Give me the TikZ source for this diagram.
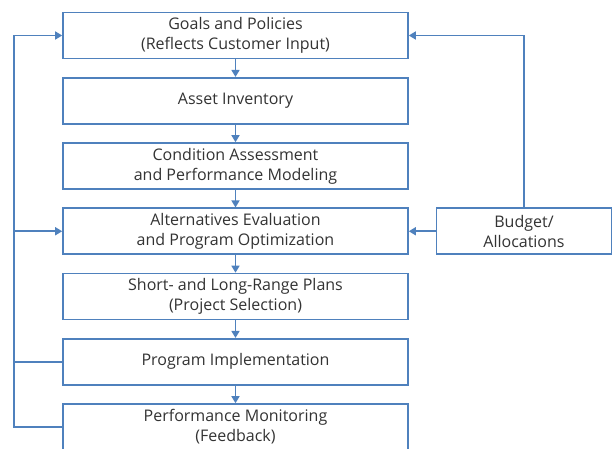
\documentclass[tikz,border=0pt]{standalone}
\usepackage{fontspec}
\setmainfont{Open Sans}
\usetikzlibrary{arrows.meta}
\definecolor{edge}{HTML}{4F81BD}
\definecolor{ink}{HTML}{333333}
\begin{document}
\begin{tikzpicture}[x=1pt, y=-1pt,
    stepbox/.style={draw=edge, line width=1.6pt, fill=white, text=ink, align=center,
        font=\fontsize{16}{20}\selectfont, inner sep=0pt, minimum height=46pt},
    flow/.style={draw=edge, line width=1.6pt, -{Triangle[width=8pt, length=7pt]}},
    link/.style={draw=edge, line width=1.6pt}]
    \useasboundingbox (0, 0) rectangle (613, 449);

    \foreach \i/\txt in {0/{Goals and Policies\\(Reflects Customer Input)},
                         1/{Asset Inventory},
                         2/{Condition Assessment\\and Performance Modeling},
                         3/{Alternatives Evaluation\\and Program Optimization},
                         4/{Short- and Long-Range Plans\\(Project Selection)},
                         5/{Program Implementation},
                         6/{Performance Monitoring\\(Feedback)}} {
        \node (b\i) at (235.5, 35.5 + 65.25*\i) [stepbox, minimum width=345pt] {\txt};
    }

    % Budget
    \node (bud) at (524, 231.25) [stepbox, minimum width=175pt] {Budget/\\Allocations};

    % down the chain
    \foreach \i [count=\j] in {0, ..., 5} {
        \draw [flow] (b\i) -- (b\j);
    }

    % feedback on the left
    \coordinate (fb) at (14, 35.5);
    \draw [flow] (b6.west) -| (fb) -- (b0.west);
    \draw [flow] (fb |- b3.west) -- (b3.west);
    \draw [link] (b5.west) -- (fb |- b5.west);

    % budget on the right
    \draw [flow] (bud.north) |- (b0.east);
    \draw [flow] (bud.west) -- (b3.east);
\end{tikzpicture}
\end{document}
